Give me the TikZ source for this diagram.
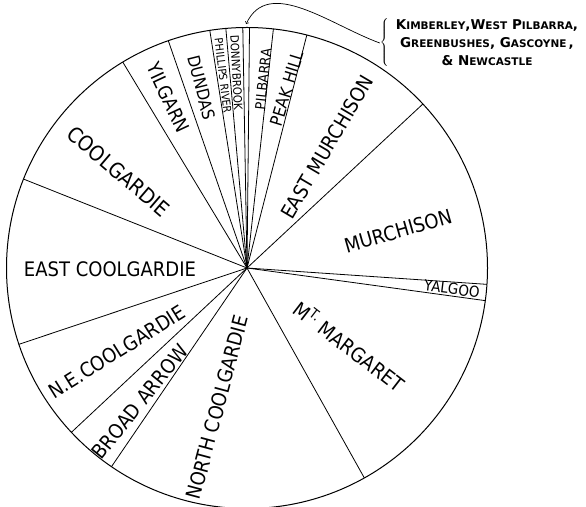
\documentclass[tikz,border=0pt]{standalone}
\usepackage{fontspec}
\setmainfont{DejaVu Sans}[FakeStretch=0.9]
\newfontfamily\notefont{DejaVu Sans}
\usepackage{tikz}
\usetikzlibrary{arrows}

\newcommand{\smcap}[1]{{\fontsize{10.5}{10.5}\selectfont #1}}

\tikzset{
  lbl/.style={inner sep=0pt, font=\fontsize{20}{20}\selectfont},
  smalllbl/.style={inner sep=0pt, font=\fontsize{#1}{#1}\selectfont},
  spoke/.style={line width=0.8pt}
}

\begin{document}
\begin{tikzpicture}[>=to, x=1pt, y=1pt]
  \useasboundingbox (0,0) rectangle (586,506);
            % the districts
                \begin{scope}[shift={(247,238)}]
                  \coordinate (O) at (0,0);
                  \draw[line width=1pt] (O) circle (240.5);

                  \draw[spoke] (O) -- (43.0:240.5);
                  \draw[spoke] (O) -- (75.6:240.5);
                  \draw[spoke] (O) -- (83.7:240.5);
                  \draw[spoke] (O) -- (89.4:240.5);
                  \draw[spoke] (O) -- (91.0:240.5);
                  \draw[spoke] (O) -- (95.05:240.5);
                  \draw[spoke] (O) -- (98.9:240.5);
                  \draw[spoke] (O) -- (109.1:240.5);
                  \draw[spoke] (O) -- (121.1:240.5);
                  \draw[spoke] (O) -- (158.3:240.5);
                  \draw[spoke] (O) -- (198.5:240.5);
                  \draw[spoke] (O) -- (223.1:240.5);
                  \draw[spoke] (O) -- (235.7:240.5);
                  \draw[spoke] (O) -- (299.2:240.5);
                  \draw[spoke] (O) -- (352.2:240.5);
                  \draw[spoke] (O) -- (356.1:240.5);

                  \node[lbl, rotate=16] (murchison) at (13.8:155.5) {MURCHISON};
                  \node[lbl, rotate=59.5] (eastmurchison) at (56.5:145) {EAST MURCHISON};
                  \node[smalllbl=17, rotate=73] (peakhill) at (77.5:184) {PEAK HILL};
                  \node[smalllbl=14, rotate=84] (pilbarra) at (85.1:189.5) {PILBARRA};
                  \node[smalllbl=11.5, rotate=-87] (donnybrook) at (93.1:195.6) {DONNYBROOK};
                  \node[smalllbl=11, rotate=-83] (phillips) at (97.1:193.6) {PHILLIPS RIVER};
                  \node[smalllbl=17, rotate=-76] (dundas) at (104.1:186) {DUNDAS};
                  \node[smalllbl=19, rotate=-65] (yilgarn) at (114.8:187.6) {YILGARN};
                  \node[smalllbl=21, rotate=-40.6] (coolgardie) at (143.1:160.7) {COOLGARDIE};
                  \node[lbl] (eastcoolgardie) at (180.4:137) {EAST COOLGARDIE};
                  \node[lbl, rotate=32] (necoolgardie) at (212.7:154.7) {N.E.COOLGARDIE};
                  \node[lbl, rotate=51] (broadarrow) at (231.4:171.3) {BROAD ARROW};
                  \node[lbl, rotate=75] (northcoolgardie) at (258:142.6) {NORTH COOLGARDIE};
                  \node[lbl, rotate=-37.6] (mtmargaret) at (322.7:128.6) {M\textsuperscript{T.} MARGARET};
                  \node[smalllbl=15, rotate=-7] (yalgoo) at (354.2:206) {YALGOO};

                  \coordinate (tip) at (90.2:244);
                \end{scope}

            % the small districts, named outside
            \node[inner sep=0pt, align=center, font=\notefont\bfseries\fontsize{13.5}{18}\selectfont] (note) at (487,463)
              {K\smcap{IMBERLEY},W\smcap{EST} P\smcap{ILBARRA},\\
               G\smcap{REENBUSHES}, G\smcap{ASCOYNE}\,,\\
               \& N\smcap{EWCASTLE}};
            \node[inner sep=0pt] (brace) at (385,463) {$\left\{\vrule width 0pt height 22pt depth 22pt\right.$};
            \draw[->, line width=0.7pt] (brace.west) to[out=160, in=65] (tip);
\end{tikzpicture}
\end{document}
